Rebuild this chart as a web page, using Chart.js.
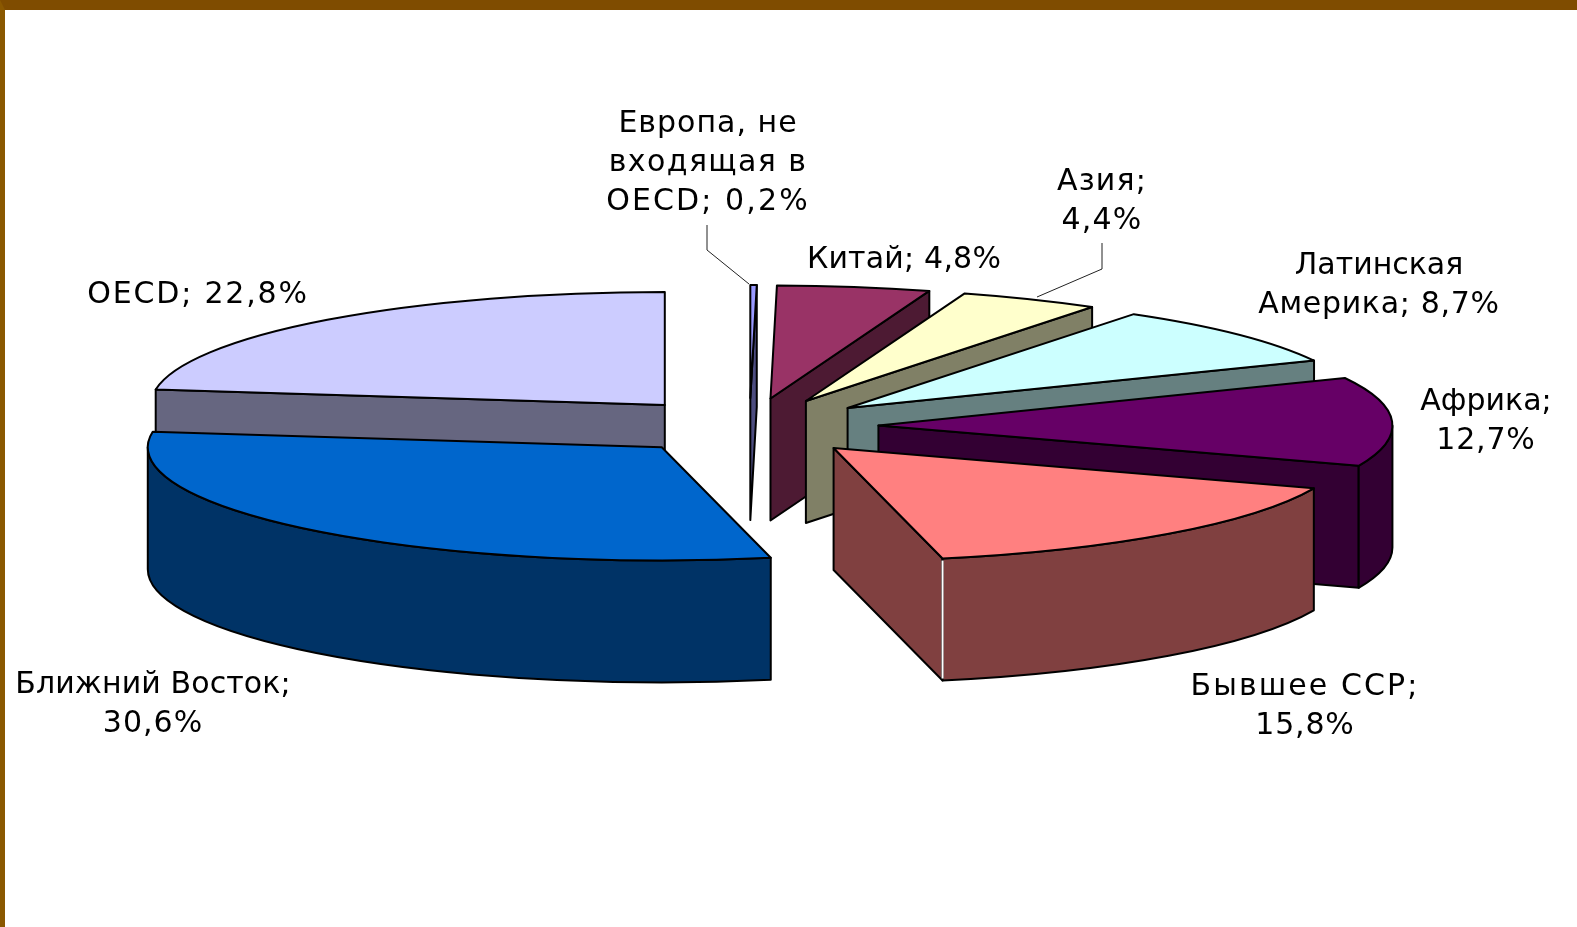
<!DOCTYPE html>
<html lang="ru">
<head>
<meta charset="utf-8">
<title>Chart</title>
<script src="https://cdn.jsdelivr.net/npm/chart.js@4"></script>
<style>
    html, body { margin: 0; height: 100%; overflow: hidden; background: #fff; }
    #frame {
        position: absolute; left: 0; top: 0; width: 1577px; height: 927px; box-sizing: border-box;
        border-top: 10px solid #7f4c00; border-left: 5px solid #8a5800; background: #fff;
    }
    #pie { position: absolute; left: 0; top: 0; }
</style>
</head>
<body>
<div id="frame"></div>
<canvas id="pie" width="1577" height="927"></canvas>
<script>
// clockwise from 12 o'clock
const regions = ['Европа, не входящая в OECD', 'Китай', 'Азия', 'Латинская Америка', 'Африка', 'Бывшее ССР', 'Ближний Восток', 'OECD'];
const shares = [0.2, 4.8, 4.4, 8.7, 12.7, 15.8, 30.6, 22.8];
const topColors = ['#9999ff', '#993366', '#ffffcc', '#ccffff', '#660066', '#ff8080', '#0066cc', '#ccccff'];
const sideColors = ['#4d4d80', '#4d1a33', '#808066', '#668080', '#330033', '#804040', '#003366', '#666680'];

// how each label is broken into lines, the last line gets "; value%"
const labelLines = [
    ['Европа, не', 'входящая в', 'OECD'],
    ['Китай'],
    ['Азия'],
    ['Латинская', 'Америка'],
    ['Африка'],
    ['Бывшее ССР'],
    ['Ближний Восток'],
    ['OECD']
];
const labelBreakValue = [false, false, true, false, true, true, true, false];
const labelPos = [[708, 132], [904, 268], [1102, 190], [1379, 274], [1486, 410], [1305, 695], [153, 693], [198, 303]];
// letter spacing per row, the original text is set unevenly
const labelSpacing = [[1, 1.4, 2.1], [0.2], [1.2, 1.2], [0, 0.7], [0, 0.8], [2.1, 0.8], [0.1, 1], [1.8]];
const leaders = [
    [[707, 225], [707, 250], [749, 284]],
    [[1102, 243], [1102, 269], [1037, 297]]
];

const squash = 0.22;
const depth = 122;

function fmt(v) {
    return v.toFixed(1).replace('.', ',') + '%';
}

function drawFace(ctx, fill, build) {
    ctx.beginPath();
    build();
    ctx.closePath();
    ctx.fillStyle = fill;
    ctx.fill();
    ctx.stroke();
}

function drawSlice(ctx, arc, i) {
    const off = arc.options.offset;
    const mid = (arc.startAngle + arc.endAngle) / 2;
    const ax = arc.x + Math.cos(mid) * off;
    const ay = arc.y + Math.sin(mid) * off * squash;
    const r = arc.outerRadius;
    const rx = a => ax + Math.cos(a) * r;
    const ry = a => ay + Math.sin(a) * r * squash;
    const side = sideColors[i];

    // cut faces turned towards the viewer
    [arc.startAngle, arc.endAngle].forEach((a, k) => {
        const facing = k === 0 ? Math.cos(a) < 0 : Math.cos(a) > 0;
        if (!facing) return;
        drawFace(ctx, side, () => {
            ctx.moveTo(ax, ay);
            ctx.lineTo(rx(a), ry(a));
            ctx.lineTo(rx(a), ry(a) + depth);
            ctx.lineTo(ax, ay + depth);
        });
    });

    // front of the rim
    const from = Math.max(arc.startAngle, 0);
    const to = Math.min(arc.endAngle, Math.PI);
    if (to > from) {
        drawFace(ctx, side, () => {
            ctx.ellipse(ax, ay, r, r * squash, 0, from, to);
            ctx.ellipse(ax, ay + depth, r, r * squash, 0, to, from, true);
        });
    }

    // top
    drawFace(ctx, arc.options.backgroundColor, () => {
        ctx.moveTo(ax, ay);
        ctx.ellipse(ax, ay, r, r * squash, 0, arc.startAngle, arc.endAngle);
    });

    // Бывшее ССР has a thin white seam on its front corner
    if (regions[i] === 'Бывшее ССР') {
        const a = arc.endAngle;
        ctx.save();
        ctx.strokeStyle = '#fff';
        ctx.lineWidth = 2;
        ctx.beginPath();
        ctx.moveTo(rx(a), ry(a) + 2);
        ctx.lineTo(rx(a), ry(a) + depth - 2);
        ctx.stroke();
        ctx.restore();
    }
}

const pie3d = {
    id: 'pie3d',
    beforeDatasetsDraw(chart) {
        const ctx = chart.ctx;
        const arcs = chart.getDatasetMeta(0).data;
        ctx.save();
        ctx.strokeStyle = '#000';
        ctx.lineWidth = 2;
        ctx.lineJoin = 'round';
        // back slice first, the rest clockwise
        const order = [arcs.length - 1].concat(arcs.map((a, i) => i).slice(0, -1));
        order.forEach(i => drawSlice(ctx, arcs[i], i));
        ctx.restore();
        return false;
    },
    afterDraw(chart) {
        const ctx = chart.ctx;
        ctx.save();
        ctx.strokeStyle = '#222';
        ctx.lineWidth = 1;
        leaders.forEach(pts => {
            ctx.beginPath();
            pts.forEach((p, k) => k ? ctx.lineTo(p[0], p[1]) : ctx.moveTo(p[0], p[1]));
            ctx.stroke();
        });
        ctx.fillStyle = '#000';
        ctx.font = '30px "DejaVu Sans"';
        ctx.textAlign = 'center';
        ctx.textBaseline = 'alphabetic';
        labelLines.forEach((lines, i) => {
            const rows = lines.slice();
            const value = fmt(shares[i]);
            if (labelBreakValue[i]) {
                rows[rows.length - 1] += ';';
                rows.push(value);
            } else {
                rows[rows.length - 1] += '; ' + value;
            }
            rows.forEach((t, k) => {
                ctx.letterSpacing = labelSpacing[i][k] + 'px';
                ctx.fillText(t, labelPos[i][0], labelPos[i][1] + k * 39);
            });
        });
        ctx.restore();
    }
};

new Chart(document.getElementById('pie').getContext('2d'), {
    type: 'pie',
    data: {
        labels: regions,
        datasets: [{
            data: shares,
            backgroundColor: topColors,
            offset: 129,
            hoverOffset: 0
        }]
    },
    options: {
        responsive: false,
        animation: false,
        radius: 514,
        layout: { padding: { right: 78, bottom: 74 } },
        plugins: {
            legend: { display: false },
            tooltip: { enabled: false }
        }
    },
    plugins: [pie3d]
});
</script>
</body>
</html>
